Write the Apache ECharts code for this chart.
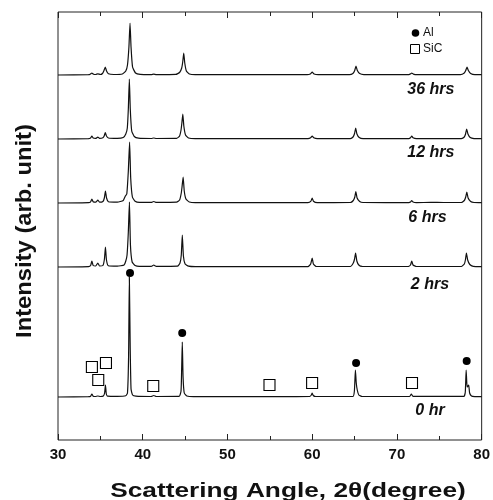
<!DOCTYPE html>
<html>
<head>
<meta charset="utf-8">
<script src="https://cdn.jsdelivr.net/npm/echarts@6/dist/echarts.min.js"></script>
<style>html,body{margin:0;padding:0;background:#fff}#c{width:493px;height:500px}</style>
</head>
<body>
<div id="c"></div>
<script>
// Pattern names and vertical offsets (stacking)
const patternNames = ['0 hr', '2 hrs', '6 hrs', '12 hrs', '36 hrs'];
const offsets = [43, 173, 237, 301, 365];
const labelPos = [[73.9, 29], [73.9, 155], [73.6, 222], [74.0, 287], [74.0, 350]];

// [2theta, relative intensity]
const hr0 = [[30,0],[33.6,0.3],[33.85,0.8],[34.0,3],[34.15,0.8],[34.4,0.5],[34.7,1],[35.0,0.5],[35.35,1],[35.5,4],[35.6,12],[35.7,3],[35.85,0.8],[37.0,0.6],[38.0,1.2],[38.2,4],[38.33,40],[38.42,120],[38.52,50],[38.62,8],[38.8,2],[39.2,0.8],[41.0,0.5],[41.3,1.5],[41.6,0.5],[44.3,0.6],[44.52,6],[44.6,30],[44.67,55],[44.76,20],[44.9,4],[45.2,1],[46,0.3],[54.9,0.3],[59.7,0.5],[59.9,2],[60.0,4],[60.12,1.5],[60.4,0.5],[64.8,0.5],[64.98,6],[65.1,27],[65.2,14],[65.32,7],[65.5,2],[65.9,0.5],[71.5,0.5],[71.7,3],[71.9,0.6],[77.9,0.6],[78.07,5],[78.17,27],[78.28,10],[78.38,11],[78.47,12],[78.58,4],[78.8,1],[79.2,0.4],[80,0.3]];
const hr2 = [[30,0],[33.6,0.4],[33.85,1.5],[34.0,6],[34.15,1.5],[34.45,1],[34.7,4],[34.9,1],[35.3,1.5],[35.48,8],[35.6,20],[35.72,7],[35.95,1.2],[37.0,0.8],[37.8,2],[38.0,6],[38.15,12],[38.3,35],[38.43,65],[38.55,22],[38.75,5],[39.1,1.5],[39.6,0.6],[41.0,0.6],[41.3,2],[41.6,0.6],[44.1,0.8],[44.4,4],[44.55,12],[44.67,32],[44.8,11],[45.0,3],[45.4,0.8],[46.2,0.3],[59.5,0.4],[59.82,3],[60.0,9],[60.14,3],[60.5,0.5],[64.5,0.5],[64.85,4],[65.0,8],[65.12,14],[65.27,6],[65.5,2],[65.9,0.6],[71.3,0.5],[71.6,2],[71.75,6],[71.9,2],[72.3,0.5],[77.6,0.5],[77.95,3],[78.08,7],[78.2,14],[78.35,7],[78.6,2.5],[79.0,0.6],[80,0.3]];
const hr6 = [[30,0],[33.6,0.4],[33.85,1.2],[34.0,4],[34.15,1.2],[34.45,0.8],[34.7,3],[34.9,0.8],[35.3,1.5],[35.47,5],[35.6,12],[35.73,5],[35.95,1.2],[37.0,0.8],[37.7,2.5],[37.95,7],[38.12,9],[38.3,32],[38.45,61],[38.58,25],[38.78,6],[39.1,1.8],[39.6,0.6],[41.0,0.6],[41.3,1.5],[41.6,0.6],[44.0,0.8],[44.35,3],[44.55,10],[44.65,17],[44.77,26],[44.9,12],[45.1,4],[45.5,1],[46.2,0.3],[59.5,0.4],[59.85,1.8],[60.0,5],[60.15,1.8],[60.6,0.4],[64.5,0.5],[64.85,2.5],[65.03,6],[65.15,11.5],[65.3,5],[65.6,1.5],[66.0,0.5],[71.4,0.4],[71.6,1],[71.75,2.5],[71.9,1],[72.3,0.4],[74.0,0.6],[75.5,0.5],[77.6,0.5],[77.95,2.5],[78.12,6],[78.25,11],[78.4,5],[78.7,1.5],[79.1,0.5],[80,0.3]];
const hr12 = [[30,0],[33.6,0.3],[33.85,1],[34.0,3],[34.15,1],[34.45,0.6],[34.7,2],[34.9,0.6],[35.3,1.2],[35.45,3],[35.58,6.5],[35.72,3],[35.95,1],[37.0,0.6],[37.7,1.5],[38.0,5],[38.18,11],[38.3,30],[38.42,60],[38.53,30],[38.7,8],[39.0,2.5],[39.5,0.8],[41.0,0.5],[41.3,1],[41.6,0.5],[44.0,0.6],[44.35,3],[44.52,9],[44.62,16],[44.73,25],[44.85,13],[45.05,4],[45.4,1],[46.2,0.3],[59.5,0.3],[59.82,1.2],[60.0,3],[60.18,1.2],[60.6,0.3],[64.5,0.4],[64.82,2],[65.0,5.5],[65.13,11],[65.28,5],[65.55,1.5],[66.0,0.4],[71.4,0.3],[71.6,1.2],[71.75,3],[71.9,1.2],[72.3,0.3],[77.6,0.4],[77.95,2],[78.1,5],[78.23,10],[78.38,5],[78.65,1.5],[79.1,0.4],[80,0.3]];
const hr36 = [[30,0],[33.6,0.3],[33.8,0.8],[34.0,2],[34.2,0.8],[34.45,0.5],[34.7,1.2],[35.0,0.5],[35.25,1.5],[35.43,4.5],[35.58,8],[35.73,4],[35.95,1.2],[36.6,0.5],[37.6,1],[38.0,4],[38.2,10],[38.37,28],[38.5,52],[38.62,28],[38.8,8],[39.15,2],[39.7,0.6],[41.0,0.4],[41.3,0.8],[41.6,0.4],[43.9,0.6],[44.35,2.5],[44.6,7],[44.72,13],[44.84,22],[44.96,12],[45.15,4],[45.5,1],[46.2,0.3],[59.4,0.3],[59.78,1],[60.0,3],[60.22,1],[60.7,0.3],[64.4,0.3],[64.8,1.5],[65.02,4.5],[65.17,9],[65.33,4.5],[65.6,1.5],[66.1,0.4],[71.3,0.3],[71.55,0.9],[71.75,2],[71.95,0.9],[72.3,0.3],[77.5,0.3],[77.95,2],[78.12,4.5],[78.27,8],[78.43,4.5],[78.7,1.5],[79.2,0.3],[80,0.3]];
const patterns = [hr0, hr2, hr6, hr12, hr36];

// Peak markers on the 0 hr pattern
const alMarks = [[38.5, 167], [44.66, 107], [65.18, 77], [78.23, 79]];
const sicMarks = [[34.0, 73], [35.66, 77], [34.75, 60], [41.24, 54], [54.96, 55], [59.99, 57], [71.78, 57]];
const legendNames = ['Al', 'SiC'];

// Axis ticks
const xMin = 30, xMax = 80, xStep = 10;

const chart = echarts.init(document.getElementById('c'), null, {renderer: 'canvas'});

const lineSeries = patterns.map((p, i) => ({
  type: 'line',
  name: patternNames[i],
  data: p.map(d => [d[0], d[1] + offsets[i]]),
  showSymbol: false,
  symbol: 'none',
  smooth: 0.15,
  lineStyle: {color: '#111', width: 1.2},
  silent: true,
  z: 2
}));

const font = 'Arial, "Liberation Sans", Helvetica, sans-serif';

const tickCommon = {
  axisLine: {show: false},
  axisTick: {show: true, inside: true, length: 6, lineStyle: {color: '#222', width: 1}},
  minorTick: {show: true, splitNumber: 2, length: 4, lineStyle: {color: '#222', width: 1}},
  splitLine: {show: false}
};

chart.setOption({
  animation: false,
  backgroundColor: '#fff',
  grid: {left: 58, right: 11, top: 12, bottom: 60, show: true, borderColor: '#222', borderWidth: 1, backgroundColor: 'transparent'},
  xAxis: [Object.assign({
    type: 'value', min: xMin, max: xMax, interval: xStep,
    axisLabel: {fontFamily: font, fontWeight: 'bold', fontSize: 15, color: '#111', margin: 7}
  }, tickCommon), Object.assign({
    type: 'value', min: xMin, max: xMax, interval: xStep, position: 'top',
    axisLabel: {show: false}
  }, tickCommon)],
  yAxis: {
    type: 'value', min: 0, max: 428,
    axisLine: {show: false}, axisTick: {show: false}, axisLabel: {show: false}, splitLine: {show: false}
  },
  series: lineSeries.concat([
    {
      type: 'scatter', name: legendNames[0], data: alMarks, symbol: 'circle', symbolSize: 8,
      itemStyle: {color: '#000', opacity: 1}, z: 5
    },
    {
      type: 'scatter', name: legendNames[1], data: sicMarks, symbol: 'rect', symbolSize: 11,
      itemStyle: {color: '#fff', borderColor: '#000', borderWidth: 1.1, opacity: 1}, z: 5
    }
  ])
});

// Text overlays placed through the chart's own coordinate system
const graphics = labelPos.map((p, i) => {
  const px = chart.convertToPixel({gridIndex: 0}, p);
  return {type: 'text', x: px[0], y: px[1], z: 10,
    style: {text: patternNames[i], fontFamily: font, fontWeight: 'bold', fontStyle: 'italic', fontSize: 16, fill: '#111', align: 'center', verticalAlign: 'middle'}};
});
graphics.push(
  {type: 'circle', shape: {cx: 415.5, cy: 33, r: 3.8}, style: {fill: '#000'}, z: 10},
  {type: 'text', x: 423, y: 33, style: {text: legendNames[0], fontFamily: font, fontSize: 12, fill: '#111', verticalAlign: 'middle'}, z: 10},
  {type: 'rect', shape: {x: 410.5, y: 44.5, width: 9, height: 9}, style: {fill: '#fff', stroke: '#000', lineWidth: 1}, z: 10},
  {type: 'text', x: 423, y: 49, style: {text: legendNames[1], fontFamily: font, fontSize: 12, fill: '#111', verticalAlign: 'middle'}, z: 10},
  {type: 'text', x: 288, y: 491, scaleX: 1.25, z: 10,
    style: {text: 'Scattering Angle, 2θ(degree)', fontFamily: font, fontWeight: 'bold', fontSize: 21, fill: '#111', align: 'center', verticalAlign: 'middle'}},
  {type: 'text', x: 25, y: 231, rotation: Math.PI / 2, scaleX: 1.08, z: 10,
    style: {text: 'Intensity (arb. unit)', fontFamily: font, fontWeight: 'bold', fontSize: 22, fill: '#111', align: 'center', verticalAlign: 'middle'}}
);
chart.setOption({graphic: graphics});
</script>
</body>
</html>
